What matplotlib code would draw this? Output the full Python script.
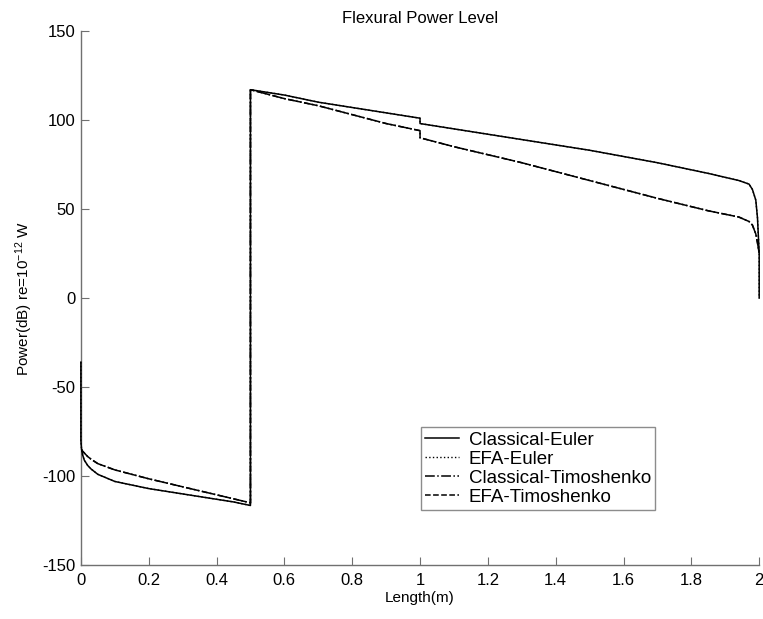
import matplotlib
matplotlib.use("Agg")
import matplotlib.pyplot as plt

plt.rcParams['font.family'] = ['Liberation Sans', 'DejaVu Sans']
plt.rcParams['mathtext.fontset'] = 'custom'
plt.rcParams['mathtext.rm'] = 'Liberation Sans'
plt.rcParams['mathtext.default'] = 'regular'
plt.rcParams['axes.unicode_minus'] = False

# values
x_euler = [0.0, 0.0, 0.002, 0.005, 0.01, 0.02, 0.03, 0.05, 0.075, 0.1, 0.15, 0.2,
           0.3, 0.4, 0.45, 0.5,
           0.5, 0.6, 0.7, 0.8, 0.9, 1.0, 1.0, 1.1, 1.3, 1.5, 1.7, 1.85, 1.94,
           1.97, 1.98, 1.99, 1.995, 2.0, 2.0]
y_classical_euler = [-36, -80, -85, -88, -91, -94, -96, -99, -101, -103, -105, -107,
                     -110, -113, -114.5, -116.5,
                     117, 114, 110, 107, 104, 101, 98, 95, 89, 83, 76, 70, 66,
                     64, 61, 55, 45, 25, 0]
y_efa_euler = [-36, -80, -85, -88, -91, -94, -96, -99, -101, -103, -105, -107,
               -110, -113, -114.5, -116.5,
               117, 114, 110, 107, 104, 101, 98, 95, 89, 83, 76, 70, 66,
               64, 61, 55, 45, 25, 0]

x_timo = [0.002, 0.005, 0.01, 0.02, 0.03, 0.05, 0.1, 0.15, 0.2, 0.3, 0.4, 0.5,
          0.5, 0.6, 0.7, 0.8, 0.9, 1.0, 1.0, 1.1, 1.3, 1.5, 1.7, 1.85, 1.94,
          1.97, 1.98, 1.99, 1.995, 2.0]
y_classical_timo = [-85, -86, -87, -89, -90.5, -93, -96.5, -99, -101.5, -106, -110.5, -115,
                    117, 112, 108, 103, 98, 94, 90, 85, 76, 66, 56, 49, 45.5,
                    43, 41, 36, 31, 25]
y_efa_timo = [-85, -86, -87, -89, -90.5, -93, -96.5, -99, -101.5, -106, -110.5, -115,
              117, 112, 108, 103, 98, 94, 90, 85, 76, 66, 56, 49, 45.5,
              43, 41, 36, 31, 25]

labels = ['Classical-Euler', 'EFA-Euler', 'Classical-Timoshenko', 'EFA-Timoshenko']

fig = plt.figure(figsize=(7.63, 6.19), dpi=100)
ax = fig.add_axes([0.106, 0.087, 0.889, 0.863])

line_kw = dict(color='black', clip_on=False, zorder=3)
ax.plot(x_euler, y_classical_euler, lw=1.1, ls='-', label=labels[0], **line_kw)
ax.plot(x_euler, y_efa_euler, lw=1.0, ls=':', label=labels[1], **line_kw)
ax.plot(x_timo, y_classical_timo, lw=1.1, ls='-.', label=labels[2], **line_kw)
ax.plot(x_timo, y_efa_timo, lw=1.1, ls='--', label=labels[3], **line_kw)

ax.set_xlim(0, 2)
ax.set_ylim(-150, 150)
ax.set_xticks([0, 0.2, 0.4, 0.6, 0.8, 1, 1.2, 1.4, 1.6, 1.8, 2])
ax.set_xticklabels(['0', '0.2', '0.4', '0.6', '0.8', '1', '1.2', '1.4', '1.6', '1.8', '2'])
ax.set_yticks([-150, -100, -50, 0, 50, 100, 150])

for side in ['top', 'right']:
    ax.spines[side].set_visible(False)
for side in ['left', 'bottom']:
    ax.spines[side].set_color('#707070')
    ax.spines[side].set_linewidth(1.0)
ax.tick_params(direction='in', length=6, color='#707070', labelsize=12)
ax.tick_params(axis='x', pad=6)
ax.tick_params(axis='y', pad=4)

ax.set_title('Flexural Power Level', fontsize=12, pad=6)
ax.set_xlabel('Length(m)', fontsize=11, labelpad=2)
ax.set_ylabel('Power(dB) re=10$^{-12}$ W', fontsize=11, labelpad=5)

leg = ax.legend(loc='upper left', bbox_to_anchor=(0.501, 0.258), fontsize=13.5,
                frameon=True, fancybox=False, handlelength=1.8, borderpad=0.22,
                labelspacing=0.1, handletextpad=0.55, borderaxespad=0)
leg.get_frame().set_edgecolor('#707070')
leg.get_frame().set_linewidth(1.0)

fig.savefig('out.png', dpi=100)
